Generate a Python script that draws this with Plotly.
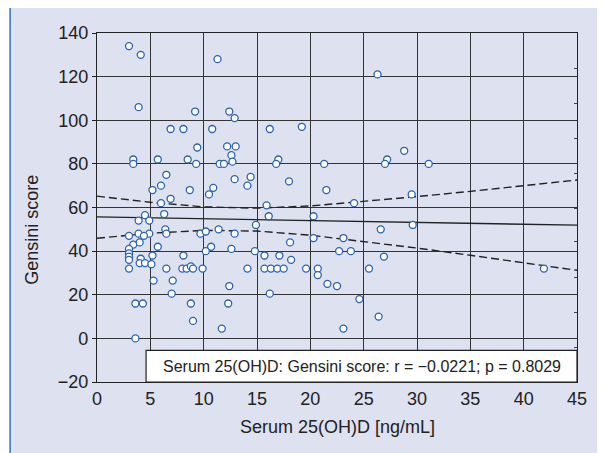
import plotly.graph_objects as go

# Scatter data: Serum 25(OH)D [ng/mL] vs Gensini score
vitd = [3.0, 4.1, 11.3, 26.3, 3.9, 9.2, 12.4, 12.9, 6.9, 8.1, 10.8, 16.2, 19.2,
        9.4, 12.2, 13.0, 28.8, 12.6, 3.4, 3.4, 5.7, 8.5, 9.3, 11.5, 11.9, 12.7,
        17.0, 16.8, 21.3, 27.2, 27.0, 31.1, 6.5, 12.9, 14.4, 18.0, 6.0, 14.1,
        5.2, 8.7, 10.9, 21.5, 10.5, 29.5, 6.9, 6.0, 15.9, 24.1, 6.3, 4.5, 16.1,
        20.3, 3.9, 4.9, 14.9, 29.6, 6.4, 11.4, 26.6, 6.5, 3.9, 4.9, 9.7, 10.2,
        12.9, 3.0, 4.4, 20.3, 23.1, 3.4, 4.0, 18.1, 5.7, 10.7, 3.0, 12.6, 10.2,
        14.8, 22.7, 23.8, 3.0, 3.0, 3.0, 3.0, 4.1, 5.2, 8.1, 15.7, 17.1, 26.9,
        18.2, 4.0, 4.5, 5.1, 6.5, 8.0, 8.4, 8.8, 9.0, 9.9, 14.1, 15.7, 16.3,
        16.9, 17.5, 19.6, 20.7, 25.5, 41.9, 20.7, 5.3, 7.1, 21.6, 22.5, 12.4,
        7.0, 16.2, 24.6, 3.6, 4.3, 8.8, 12.3, 26.4, 9.0, 11.7, 23.1, 3.6]
gensini = [134, 130, 128, 121, 106, 104, 104, 101, 96, 96, 96, 96, 97,
           87.5, 88, 88, 86, 84, 82, 80, 82, 82, 80, 80, 80, 81,
           82, 80, 80, 82, 80, 80, 75, 73, 74, 72, 70, 70,
           68, 68, 69, 68, 66, 66, 64, 62, 61, 62, 57, 56.5, 56,
           56, 54, 54, 52, 52, 50, 50, 50, 48, 48, 48, 48, 49,
           48, 47, 47, 46, 46, 43, 44, 44, 42, 42, 41, 41, 40,
           40, 40, 40, 39, 37.5, 36, 32, 36.5, 38, 38, 38, 38, 37.5,
           36, 34.5, 34.5, 34, 32, 32, 32, 33, 32, 32, 32, 32, 32,
           32, 32, 32, 32, 32, 32, 29, 26.5, 26.5, 25, 24, 24,
           20.5, 20.5, 18, 16, 16, 16, 16, 10, 8, 4.5, 4.5, 0]

# Regression line and 95% confidence band
fit_x = [0, 5, 10, 15, 20, 25, 30, 35, 40, 45]
fit_y = [55.7, 55.3, 54.9, 54.4, 54.0, 53.6, 53.2, 52.8, 52.3, 51.9]
ci_upper = [65.2, 62.4, 60.3, 59.7, 60.7, 62.7, 65.0, 67.4, 70.0, 72.6]
ci_lower = [45.9, 48.2, 49.5, 49.2, 47.3, 44.5, 41.4, 38.1, 34.7, 31.2]

x_ticks = [0, 5, 10, 15, 20, 25, 30, 35, 40, 45]
y_ticks = [-20, 0, 20, 40, 60, 80, 100, 120, 140]
right_minor = [-4.4, 12, 28.1, 44.2, 59.6, 75.7, 91.7, 107.8, 123.8]

stat_text = "Serum 25(OH)D: Gensini score: r = \u22120.0221; p = 0.8029"

FONT = "Liberation Sans, Arial, sans-serif"
BG = "#dde1f0"
BLUE = "#2a62ad"
DASH = "8px,4px"

fig = go.Figure()
fig.add_trace(go.Scatter(x=fit_x, y=ci_upper, mode="lines",
                         line=dict(color="#222", width=1.4, dash=DASH),
                         hoverinfo="skip", showlegend=False))
fig.add_trace(go.Scatter(x=fit_x, y=ci_lower, mode="lines",
                         line=dict(color="#222", width=1.4, dash=DASH),
                         hoverinfo="skip", showlegend=False))
fig.add_trace(go.Scatter(x=fit_x, y=fit_y, mode="lines",
                         line=dict(color="#222", width=1.4),
                         hoverinfo="skip", showlegend=False))
fig.add_trace(go.Scatter(x=vitd, y=gensini, mode="markers",
                         marker=dict(symbol="circle", size=7, color="white",
                                     line=dict(color=BLUE, width=1.3)),
                         showlegend=False))
# invisible trace to carry the right-side minor ticks axis
fig.add_trace(go.Scatter(x=[0], y=[0], yaxis="y2", mode="markers",
                         marker=dict(opacity=0), hoverinfo="skip",
                         showlegend=False))

# Figure frame (light lavender with blue border)
fig.add_shape(type="rect", xref="paper", yref="paper",
              x0=-0.181, x1=1.05, y0=-0.25, y1=1.0745,
              fillcolor=BG, line=dict(color="#3a70b8", width=1.5),
              layer="below")

# Stats box
fig.add_shape(type="rect", xref="x", yref="y",
              x0=4.6, x1=45, y0=-20, y1=-5.5,
              fillcolor="white", line=dict(color="#222", width=1.2),
              layer="above")
fig.add_annotation(x=(4.6 + 45) / 2, y=-12.75, xref="x", yref="y",
                   text=stat_text, showarrow=False,
                   font=dict(family=FONT, size=16, color="#222"))

# Axis titles
fig.add_annotation(x=0.5, y=-0.13, xref="paper", yref="paper",
                   text="Serum 25(OH)D [ng/mL]", showarrow=False,
                   yanchor="middle",
                   font=dict(family=FONT, size=18, color="#222"))
fig.add_annotation(x=-0.134, y=0.435, xref="paper", yref="paper",
                   text="Gensini score", showarrow=False, textangle=-90,
                   xanchor="center", yanchor="middle",
                   font=dict(family=FONT, size=18, color="#222"))

fig.update_layout(
    width=597, height=445,
    margin=dict(l=89, r=28, t=25, b=71),
    paper_bgcolor="white",
    plot_bgcolor="white",
    font=dict(family=FONT, size=18, color="#222"),
    xaxis=dict(range=[0, 45], tickvals=x_ticks, showgrid=True,
               gridcolor="#333", gridwidth=1.3, zeroline=False,
               showline=True, linecolor="#222", linewidth=1.3, mirror=True,
               ticks="", tickfont=dict(size=18), fixedrange=True),
    yaxis=dict(range=[-20, 140], tickvals=y_ticks,
               ticktext=["\u221220" if v < 0 else str(v) for v in y_ticks],
               showgrid=True, gridcolor="#333", gridwidth=1.3,
               zeroline=False, showline=True, linecolor="#222",
               linewidth=1.3, mirror=True, ticks="outside", ticklen=4,
               tickcolor="#222", tickfont=dict(size=18), fixedrange=True),
    yaxis2=dict(range=[-20, 140], overlaying="y", side="right",
                tickvals=right_minor, ticks="inside", ticklen=3,
                tickcolor="#444", showticklabels=False, showgrid=False,
                zeroline=False, showline=False, fixedrange=True),
)

fig.write_html("out.html")
